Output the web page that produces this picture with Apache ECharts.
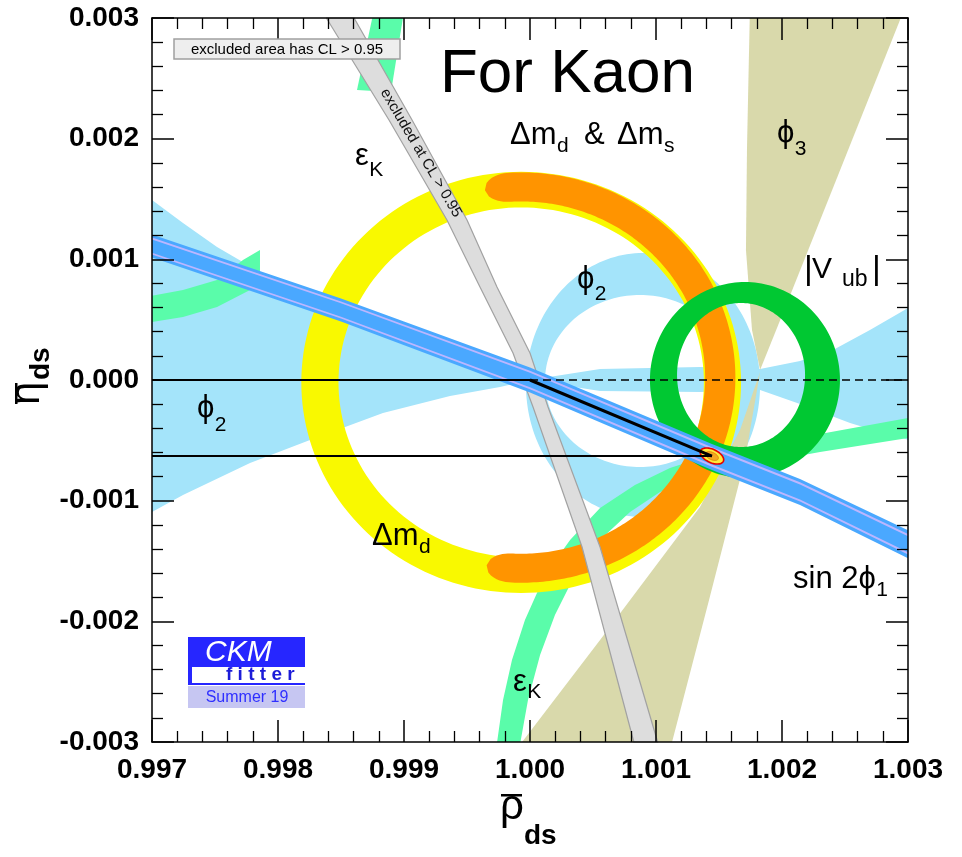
<!DOCTYPE html>
<html>
<head>
<meta charset="utf-8">
<title>For Kaon</title>
<script src="https://cdn.jsdelivr.net/npm/echarts@6.0.0/dist/echarts.min.js"></script>
<style>
html, body { margin: 0; padding: 0; background: #ffffff; }
#chart { width: 962px; height: 857px; }
</style>
</head>
<body>
<div id="chart"></div>
<script>
// ---------- axes ----------
const rhoTicks = [0.997, 0.998, 0.999, 1.000, 1.001, 1.002, 1.003];
const rhoLabels = ['0.997', '0.998', '0.999', '1.000', '1.001', '1.002', '1.003'];
const etaTicks = [-0.003, -0.002, -0.001, 0.000, 0.001, 0.002, 0.003];
const etaLabels = ['-0.003', '-0.002', '-0.001', '0.000', '0.001', '0.002', '0.003'];
const tickStep = 0.001;

// ---------- constraints in the (rho_ds, eta_ds) plane ----------
// phi2: two lobes meeting at (1, 0)
const phi2LeftLobe = [[1.000000, 0], [0.999762, 0.0000994], [0.999230, 0.000273], [0.998571, 0.000514],
  [0.998175, 0.000729], [0.997857, 0.000895], [0.997516, 0.001102], [0.997246, 0.001301],
  [0.997000, 0.001492], [0.996905, 0.001566], [0.996905, -0.001144], [0.997000, -0.001094],
  [0.997246, -0.000953], [0.997778, -0.000688], [0.998254, -0.000497], [0.998833, -0.000273],
  [0.999365, -0.000133], [0.999762, -0.000058]];
const phi2RightLobe = [[1.000000, 0], [1.000556, 0.0000912], [1.001349, 0.000108], [1.001826, 0.0000912],
  [1.002143, 0.000157], [1.002405, 0.000249], [1.002698, 0.000414], [1.003095, 0.000655],
  [1.003095, -0.000522], [1.002698, -0.000406], [1.002540, -0.000357], [1.002143, -0.000199],
  [1.001826, -0.0000829], [1.001349, -0.0000994], [1.000556, -0.0000912]];
// phi2 crescent: outer and inner ellipse [centre rho, centre eta, half-width, half-height]
const phi2RingOuter = [1.000897, -0.0000414, 0.000929, 0.001094];
const phi2RingInner = [1.000873, -0.0000083, 0.000754, 0.000713];

// phi3 wedges
const phi3Upper = [[1.001746, 0.003108], [1.002984, 0.003108], [1.002072, 0.000721], [1.001826, 0.0000829],
  [1.001762, 0.000414], [1.001714, 0.001077], [1.001722, 0.001906]];
const phi3Lower = [[1.001826, 0.0000663], [1.001706, -0.000663], [1.001421, -0.001823], [1.001111, -0.003066],
  [0.999889, -0.003066], [1.000556, -0.002155], [1.001349, -0.001052], [1.001667, -0.000414]];

// epsilon_K bands
const epsKTop = [[0.998770, 0.003108], [0.999008, 0.003108], [0.998897, 0.002387], [0.998627, 0.002403]];
const epsKLeft = [[0.996905, 0.000680], [0.997246, 0.000746], [0.997516, 0.000829], [0.997722, 0.000994],
  [0.997857, 0.001077], [0.997857, 0.000804], [0.997778, 0.000746], [0.997516, 0.000605],
  [0.997246, 0.000522], [0.996905, 0.000464]];
const epsKLower = [[0.999730, -0.003066], [0.999786, -0.002652], [0.999857, -0.002320], [0.999960, -0.001989],
  [1.000119, -0.001616], [1.000318, -0.001326], [1.000556, -0.001061], [1.000833, -0.000870],
  [1.001111, -0.000729], [1.001429, -0.000622], [1.001826, -0.000564], [1.002302, -0.000447],
  [1.003095, -0.000298], [1.003095, -0.000464], [1.002302, -0.000597], [1.001826, -0.000688],
  [1.001508, -0.000762], [1.001270, -0.000829], [1.001032, -0.000928], [1.000794, -0.001094],
  [1.000556, -0.001326], [1.000357, -0.001616], [1.000198, -0.001947], [1.000080, -0.002279],
  [0.999984, -0.002652], [0.999913, -0.003066]];

// Delta m_d ring [centre rho, centre eta, inner radius, outer radius]
const dmdRing = [0.99993, -0.00002, 0.00145, 0.001745];
// Delta m_d & Delta m_s arc [centre rho, centre eta, inner radius, outer radius] and its angular span (deg)
const dmsRing = [0.99993, 0.00002, 0.00146, 0.0017];
const dmsSpan = [-100, 100.5];

// |V_ub| ring: outer and inner ellipse [centre rho, centre eta, half-width, half-height]
const vubOuter = [1.001706, 0, 0.000754, 0.000812];
const vubInner = [1.001675, 0.0000414, 0.000508, 0.000597];

// region excluded at CL > 0.95 (left and right edges, top to bottom)
const excludedLeft = [[0.998345, 0.003066], [0.998881, 0.002155], [0.999341, 0.001326], [0.999603, 0.000771],
  [0.999865, 0.000224], [1.000024, -0.000224], [1.000413, -0.001384], [1.000841, -0.003066]];
const excludedRight = [[0.998568, 0.003066], [0.999064, 0.002155], [0.999500, 0.001326], [0.999738, 0.000771],
  [1.000000, 0.000224], [1.000143, -0.000224], [1.000556, -0.001384], [1.001032, -0.003066]];

// sin 2phi1 band (upper and lower edges, left to right)
const sin2Upper = [[0.996905, 0.001239], [0.998500, 0.000675], [1.000000, 0.000104], [1.001444, -0.000530],
  [1.002143, -0.000820], [1.003095, -0.001293]];
const sin2Lower = [[0.996905, 0.001048], [0.998500, 0.000485], [1.000000, -0.000104], [1.001444, -0.000746],
  [1.002143, -0.001036], [1.003095, -0.001525]];

// unitarity triangle corner and fitted apex
const origin = [1.000, 0.000];
const apex = [1.001444, -0.00063];
const apexSize = [0.0001, 0.000055];   // half-axes of the apex contour

// ---------- styling ----------
const FONT = 'Liberation Sans, Arial, Helvetica, sans-serif';
const COL = {
  phi2: '#a4e4fa', phi3: '#d9d9ab', epsK: '#5afcaa', dmd: '#f9f900', dms: '#ff9400',
  vub: '#00c832', excl: '#dddddd', exclEdge: '#a2a2a2', sin2: '#4aa8ff', sin2Line: '#bcb6ff'
};

// ---------- geometry helpers ----------
function ellipseLoop(spec, a0, a1) {
  const pts = [];
  const n = Math.max(8, Math.ceil(Math.abs(a1 - a0) / 2));
  for (let i = 0; i <= n; i++) {
    const t = (a0 + (a1 - a0) * i / n) * Math.PI / 180;
    pts.push([spec[0] + spec[2] * Math.cos(t), spec[1] + spec[3] * Math.sin(t)]);
  }
  return pts;
}
function ellipseRing(outer, inner) {
  return ellipseLoop(outer, 0, 360).concat(ellipseLoop(inner, 360, 0));
}
function circleRing(r) {
  return ellipseRing([r[0], r[1], r[3], r[3]], [r[0], r[1], r[2], r[2]]);
}
function taperedArc(r, span, taper) {
  const mid = (r[2] + r[3]) / 2, hw = (r[3] - r[2]) / 2;
  const outer = [], inner = [];
  const n = 240;
  for (let i = 0; i <= n; i++) {
    const a = span[0] + (span[1] - span[0]) * i / n;
    const e = Math.min(a - span[0], span[1] - a);
    const f = e >= taper ? 1 : Math.sqrt(Math.max(0, 1 - Math.pow((taper - e) / taper, 2)));
    const t = a * Math.PI / 180;
    outer.push([r[0] + (mid + hw * f) * Math.cos(t), r[1] + (mid + hw * f) * Math.sin(t)]);
    inner.push([r[0] + (mid - hw * f) * Math.cos(t), r[1] + (mid - hw * f) * Math.sin(t)]);
  }
  return outer.concat(inner.reverse());
}
function bandStrip(upper, lower, f0, f1) {
  const at = f => upper.map((p, i) => [p[0] + (lower[i][0] - p[0]) * f, p[1] + (lower[i][1] - p[1]) * f]);
  return at(f0).concat(at(f1).reverse());
}
// Sutherland-Hodgman clipping of a pixel polygon against the plot rectangle
function clipPoly(pts, rc) {
  const x0 = rc.x, x1 = rc.x + rc.width, y0 = rc.y, y1 = rc.y + rc.height;
  const planes = [
    [p => p[0] >= x0, (a, b) => [x0, a[1] + (x0 - a[0]) / (b[0] - a[0]) * (b[1] - a[1])]],
    [p => p[0] <= x1, (a, b) => [x1, a[1] + (x1 - a[0]) / (b[0] - a[0]) * (b[1] - a[1])]],
    [p => p[1] >= y0, (a, b) => [a[0] + (y0 - a[1]) / (b[1] - a[1]) * (b[0] - a[0]), y0]],
    [p => p[1] <= y1, (a, b) => [a[0] + (y1 - a[1]) / (b[1] - a[1]) * (b[0] - a[0]), y1]]
  ];
  let out = pts;
  for (const [inside, cut] of planes) {
    const input = out;
    out = [];
    if (!input.length) break;
    let prev = input[input.length - 1];
    for (const cur of input) {
      const ci = inside(cur), pi = inside(prev);
      if (ci) { if (!pi) out.push(cut(prev, cur)); out.push(cur); }
      else if (pi) out.push(cut(prev, cur));
      prev = cur;
    }
  }
  return out;
}
function regionSeries(name, loops, style) {
  return {
    type: 'custom', name, silent: true,
    data: [[1, 0]],
    renderItem(params, api) {
      const rc = params.coordSys;
      return {
        type: 'group',
        children: loops.map(loop => ({
          type: 'polygon',
          shape: { points: clipPoly(loop.map(p => api.coord(p)), rc) },
          style: Object.assign({ lineJoin: 'round' }, style)
        }))
      };
    }
  };
}
function lineSeries(pts, width, dash) {
  return {
    type: 'line', data: pts, symbol: 'none', silent: true,
    lineStyle: { color: '#000', width, type: dash || 'solid' }
  };
}
function apexSeries() {
  return {
    type: 'custom', name: 'apex', silent: true, data: [apex],
    renderItem(params, api) {
      const c = api.coord(apex);
      const s = api.size(apexSize);
      const th = 25 * Math.PI / 180;
      const loop = k => {
        const pts = [];
        for (let i = 0; i < 48; i++) {
          const t = i / 48 * 2 * Math.PI;
          const a = s[0] * k * Math.cos(t), b = s[1] * k * Math.sin(t);
          pts.push([c[0] + a * Math.cos(th) - b * Math.sin(th), c[1] + a * Math.sin(th) + b * Math.cos(th)]);
        }
        return pts;
      };
      return {
        type: 'group',
        children: [
          { type: 'polygon', shape: { points: loop(1) }, style: { fill: '#ffe93a', stroke: '#e60000', lineWidth: 1.6 } },
          { type: 'polygon', shape: { points: loop(0.55) }, style: { fill: '#f5a623', stroke: '#d98200', lineWidth: 0.8 } }
        ]
      };
    }
  };
}

// ---------- text helpers ----------
const measureCtx = document.createElement('canvas').getContext('2d');
function fontString(size, opt) {
  return (opt.italic ? 'italic ' : '') + (opt.weight || 'normal') + ' ' + size + 'px ' + FONT;
}
function txt(s, x, baseline, size, opt) {
  opt = opt || {};
  return {
    type: 'text', x, y: baseline - 0.35 * size, z: 100, silent: true,
    style: {
      text: s, fontSize: size, fontFamily: FONT, fontWeight: opt.weight || 'normal',
      fontStyle: opt.italic ? 'italic' : 'normal', fill: opt.fill || '#000',
      align: opt.align || 'left', verticalAlign: 'middle'
    }
  };
}
// a run of text pieces; a piece with x === null follows straight after the previous one
function run(parts) {
  const out = [];
  let end = 0;
  for (const [s, x, baseline, size, opt] of parts) {
    const o = opt || {};
    const left = x === null ? end + 0.5 : x;
    out.push(txt(s, left, baseline, size, o));
    measureCtx.font = fontString(size, o);
    end = left + measureCtx.measureText(s).width;
  }
  return out;
}
const PHI = '\u03D5';
const labels = [].concat(
  run([['For Kaon', 440, 97, 62]]),
  run([['\u0394m', 510, 146, 31], ['d', null, 154, 21], ['&', 584, 146, 31],
       ['\u0394m', 617, 146, 31], ['s', null, 154, 21]]),
  run([[PHI, 777, 144, 31], ['3', null, 157, 21]]),
  run([['\u03B5', 355, 167, 31], ['K', null, 178, 21]]),
  run([[PHI, 577, 290, 31], ['2', null, 302, 21]]),
  run([['|', 804, 282, 34], ['V', 812, 280, 30], ['ub', 842, 288, 23], ['|', 872, 282, 34]]),
  run([[PHI, 197, 419, 31], ['2', null, 433, 21]]),
  run([['\u0394m', 372, 547, 31], ['d', null, 555, 21]]),
  run([['sin 2' + PHI, 793, 590, 31], ['1', null, 598, 21]]),
  run([['\u03B5', 513, 693, 31], ['K', null, 700, 21]])
);
const legendBox = [
  { type: 'rect', z: 100, silent: true, shape: { x: 174, y: 39, width: 226, height: 20 },
    style: { fill: '#eeeeee', stroke: '#a0a0a0', lineWidth: 1.5 } },
  txt('excluded area has CL > 0.95', 287, 55, 15, { align: 'center' })
];
const bandText = {
  type: 'text', x: 421, y: 153, z: 100, silent: true, rotation: -59.5 * Math.PI / 180,
  style: { text: 'excluded at CL > 0.95', fontSize: 15, fontFamily: FONT, fill: '#111',
    align: 'center', verticalAlign: 'middle' }
};
const logo = [
  { type: 'rect', z: 100, silent: true, shape: { x: 188, y: 637, width: 117, height: 48 }, style: { fill: '#2626ff' } },
  { type: 'rect', z: 101, silent: true, shape: { x: 192, y: 667, width: 113, height: 16 }, style: { fill: '#ffffff' } },
  Object.assign(txt('CKM', 205, 663, 30, { italic: true, fill: '#ffffff' }), { z: 102 }),
  Object.assign(txt('f i t t e r', 226, 681, 19, { weight: 'bold', fill: '#1c1cd8' }), { z: 102 }),
  { type: 'rect', z: 100, silent: true, shape: { x: 188, y: 686, width: 117, height: 22 }, style: { fill: '#c6c6f2' } },
  Object.assign(txt('Summer 19', 247, 703, 16, { align: 'center', fill: '#2f2fff' }), { z: 102 })
];
const axisTitles = [
  txt('\u03C1', 500, 822, 42),
  { type: 'rect', z: 100, silent: true, shape: { x: 501, y: 794, width: 21, height: 2.5 }, style: { fill: '#000' } },
  txt('ds', 524, 846, 28, { weight: 'bold' }),
  {
    type: 'group', x: 42, y: 405, rotation: Math.PI / 2, z: 100, silent: true,
    children: [
      txt('\u03B7', 0, 0, 42),
      { type: 'rect', z: 100, shape: { x: 1, y: -27, width: 21, height: 2.5 }, style: { fill: '#000' } },
      txt('ds', 25, 9, 28, { weight: 'bold' })
    ]
  }
];

// ---------- axes ----------
const tickFmt = (ticks, lbls) => v => lbls[Math.round((v - ticks[0]) / tickStep)] || '';
function mkAxis(ticks, lbls, pos, showLabel, isX) {
  return {
    type: 'value', position: pos, min: ticks[0], max: ticks[ticks.length - 1], interval: tickStep,
    z: 50, splitLine: { show: false },
    axisLine: { show: true, onZero: false, lineStyle: { color: '#000', width: 1.5 } },
    axisTick: { show: true, inside: true, length: 22, lineStyle: { color: '#000', width: 1.5 } },
    minorTick: { show: true, splitNumber: 5, length: 11, lineStyle: { color: '#000', width: 1.3 } },
    axisLabel: {
      show: showLabel, formatter: tickFmt(ticks, lbls), color: '#000', fontFamily: FONT,
      fontWeight: 'bold', fontSize: 28, margin: isX ? 14 : 13, showMinLabel: true, showMaxLabel: true,
      hideOverlap: false
    }
  };
}

const option = {
  animation: false,
  backgroundColor: '#ffffff',
  grid: { left: 152, right: 54, top: 18, bottom: 115, containLabel: false, outerBoundsMode: 'none' },
  xAxis: [mkAxis(rhoTicks, rhoLabels, 'bottom', true, true), mkAxis(rhoTicks, rhoLabels, 'top', false, true)],
  yAxis: [mkAxis(etaTicks, etaLabels, 'left', true, false), mkAxis(etaTicks, etaLabels, 'right', false, false)],
  series: [
    regionSeries('phi2', [phi2LeftLobe, phi2RightLobe, ellipseRing(phi2RingOuter, phi2RingInner)], { fill: COL.phi2 }),
    regionSeries('phi3', [phi3Upper, phi3Lower], { fill: COL.phi3 }),
    regionSeries('epsK', [epsKTop, epsKLeft, epsKLower], { fill: COL.epsK }),
    regionSeries('dmd', [circleRing(dmdRing)], { fill: COL.dmd }),
    regionSeries('dms', [taperedArc(dmsRing, dmsSpan, 7)], { fill: COL.dms }),
    regionSeries('vub', [ellipseRing(vubOuter, vubInner)], { fill: COL.vub }),
    regionSeries('excluded', [excludedLeft.concat(excludedRight.slice().reverse())],
      { fill: COL.excl, stroke: COL.exclEdge, lineWidth: 1.2 }),
    regionSeries('sin2phi1', [sin2Upper.concat(sin2Lower.slice().reverse())], { fill: COL.sin2 }),
    regionSeries('sin2phi1 lines', [bandStrip(sin2Upper, sin2Lower, 0.13, 0.21), bandStrip(sin2Upper, sin2Lower, 0.79, 0.87)],
      { fill: COL.sin2Line }),
    lineSeries([[rhoTicks[0], 0], origin], 2),
    lineSeries([origin, [rhoTicks[rhoTicks.length - 1], 0]], 1.6, [8, 5]),
    lineSeries([[rhoTicks[0], apex[1]], apex], 2.2),
    lineSeries([origin, apex], 3),
    apexSeries()
  ],
  graphic: { elements: [].concat(labels, legendBox, [bandText], logo, axisTitles) }
};

const chart = echarts.init(document.getElementById('chart'), null, { renderer: 'canvas' });
chart.setOption(option);
</script>
</body>
</html>
